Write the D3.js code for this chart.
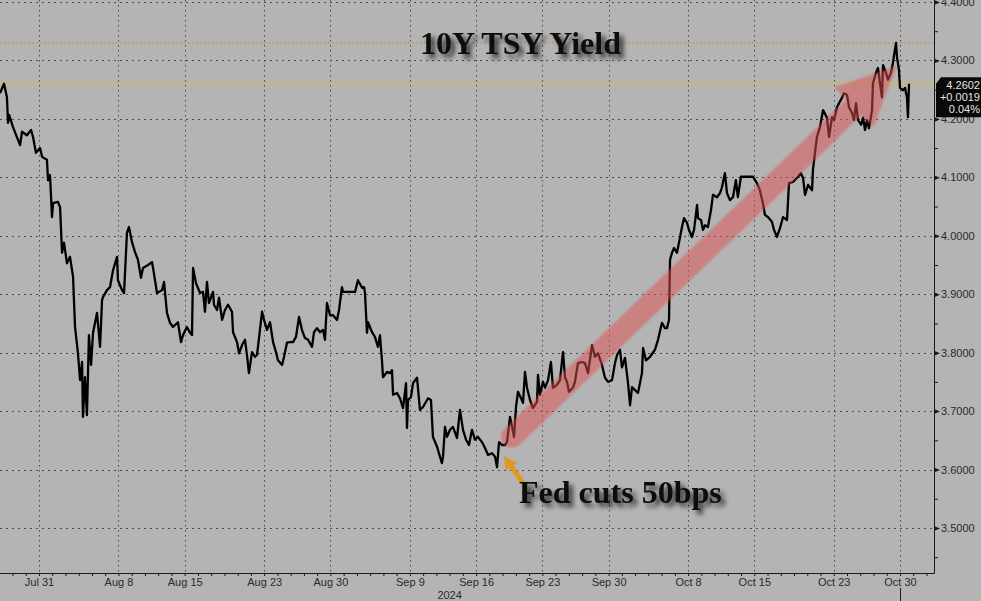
<!DOCTYPE html>
<html><head><meta charset="utf-8">
<script src="https://cdn.jsdelivr.net/npm/d3@7"></script>
<style>html,body{margin:0;padding:0;background:#b4b4b4;overflow:hidden}</style>
</head><body>
<svg id="c" width="981" height="601"></svg>
<script>
// trading-day index (0 = Jul 31, fractional = intraday)
const dayIdx = [
-2.94,-2.64,-2.42,-2.34,-2.26,-1.96,-1.43,-1.28,-0.91,-0.60,
-0.45,-0.23,0.08,0.23,0.60,0.68,0.83,0.98,1.06,1.43,
1.59,1.74,1.89,2.11,2.34,2.57,2.72,2.94,3.10,3.25,
3.32,3.47,3.62,3.77,3.93,4.08,4.38,4.61,4.76,4.83,
5.13,5.36,5.59,5.89,5.96,6.27,6.42,6.64,6.79,7.02,
7.25,7.47,7.70,7.85,8.23,8.53,8.61,8.91,9.29,9.44,
9.66,9.89,10.12,10.49,10.72,10.87,11.17,11.40,11.55,11.63,
11.85,12.16,12.38,12.53,12.68,12.83,13.14,13.21,13.44,13.59,
13.82,14.04,14.27,14.57,14.65,14.95,15.10,15.33,15.55,15.70,
15.85,16.08,16.31,16.46,16.68,16.84,16.99,17.21,17.44,17.67,
17.89,18.04,18.35,18.50,18.72,18.95,19.18,19.40,19.63,19.85,
20.08,20.31,20.61,20.76,20.99,21.21,21.44,21.59,21.74,21.97,
22.20,22.50,22.65,22.87,22.95,23.25,23.86,24.08,24.39,24.54,
24.61,24.76,24.84,25.14,25.36,25.59,25.74,25.89,25.97,26.27,
26.50,26.65,26.73,27.03,27.25,27.48,27.71,27.78,27.86,28.08,
28.24,28.54,28.76,28.99,29.37,29.59,29.74,30.05,30.27,30.42,
30.50,30.65,30.80,31.03,31.25,31.56,31.78,32.01,32.24,32.46,
32.69,32.91,33.14,33.44,33.67,33.90,34.20,34.43,34.58,34.73,
34.95,35.18,35.33,35.56,35.71,35.86,36.01,36.16,36.39,36.54,
36.69,36.84,37.07,37.29,37.60,37.67,37.82,38.05,38.20,38.43,
38.65,38.80,39.10,39.33,39.56,39.71,39.86,40.01,40.31,40.46,
40.69,40.99,41.22,41.45,41.75,41.97,42.20,42.50,42.73,42.96,
43.26,43.48,43.64,43.86,44.01,44.24,44.47,44.62,44.77,45.00,
45.22,45.52,45.60,45.82,46.13,46.50,46.73,47.03,47.26,47.41,
47.56,47.64,47.79,47.94,48.16,48.32,48.54,48.69,48.92,49.07,
49.30,49.45,49.68,49.75,49.98,50.13,50.28,50.50,50.73,50.88,
51.18,51.41,51.56,51.78,51.94,52.16,52.39,52.61,52.76,52.99,
53.89,54.20,54.42,54.65,54.80,55.03,55.33,55.49,55.71,55.94,
56.17,56.47,56.62,56.92,57.30,57.52,57.68,57.83,58.06,58.36,
58.43,58.58,58.73,58.96,59.19,59.49,59.64,59.87,60.02,60.24,
60.40,60.62,60.77,61.00,61.15,61.38,61.53,61.68,61.83,62.06,
62.21,62.36,62.51,62.66,62.89,62.96,63.19,63.34,63.49,63.64,
63.72,63.94,64.09,64.32,64.47,64.55,64.70,64.77,64.92,65.00,
65.23,65.38,65.53,65.60,65.68];
const yields = [
4.244,4.260,4.237,4.193,4.207,4.186,4.155,4.178,4.172,4.181,
4.169,4.142,4.150,4.135,4.130,4.095,4.104,4.032,4.056,4.058,
4.049,3.971,3.988,3.953,3.964,3.930,3.844,3.799,3.753,3.784,
3.690,3.758,3.693,3.830,3.779,3.834,3.868,3.810,3.890,3.895,
3.907,3.912,3.941,3.964,3.924,3.907,3.902,4.005,4.015,3.989,
3.972,3.959,3.928,3.945,3.950,3.955,3.945,3.902,3.907,3.921,
3.868,3.851,3.844,3.852,3.818,3.830,3.844,3.834,3.830,3.945,
3.919,3.902,3.904,3.870,3.921,3.885,3.904,3.882,3.873,3.894,
3.856,3.873,3.882,3.870,3.835,3.818,3.799,3.813,3.822,3.796,
3.765,3.801,3.793,3.796,3.839,3.870,3.856,3.839,3.852,3.818,
3.801,3.787,3.779,3.793,3.817,3.818,3.818,3.827,3.861,3.839,
3.825,3.822,3.810,3.835,3.842,3.835,3.839,3.822,3.885,3.864,
3.864,3.856,3.873,3.912,3.904,3.904,3.904,3.924,3.911,3.912,
3.902,3.834,3.852,3.835,3.827,3.810,3.830,3.787,3.758,3.767,
3.765,3.770,3.728,3.731,3.722,3.705,3.748,3.671,3.719,3.724,
3.748,3.757,3.702,3.707,3.722,3.719,3.656,3.639,3.622,3.611,
3.622,3.673,3.656,3.668,3.673,3.654,3.702,3.668,3.651,3.642,
3.668,3.651,3.656,3.647,3.637,3.625,3.628,3.622,3.604,3.647,
3.642,3.642,3.647,3.690,3.673,3.656,3.707,3.733,3.722,3.714,
3.767,3.740,3.719,3.705,3.716,3.762,3.728,3.750,3.740,3.753,
3.784,3.740,3.745,3.753,3.801,3.758,3.750,3.733,3.740,3.750,
3.782,3.784,3.782,3.765,3.813,3.793,3.799,3.779,3.757,3.750,
3.753,3.782,3.796,3.805,3.775,3.791,3.748,3.710,3.741,3.736,
3.731,3.765,3.808,3.787,3.793,3.805,3.822,3.851,3.842,3.842,
3.856,3.959,3.971,3.979,3.971,3.989,4.015,4.030,4.022,4.010,
3.998,4.010,4.053,4.030,4.027,4.010,4.018,4.015,4.044,4.070,
4.066,4.073,4.083,4.107,4.073,4.061,4.066,4.095,4.066,4.101,
4.101,4.090,4.078,4.056,4.036,4.032,4.024,4.010,3.998,4.013,
4.032,4.027,4.090,4.092,4.101,4.107,4.099,4.070,4.087,4.078,
4.113,4.142,4.169,4.186,4.215,4.202,4.169,4.203,4.198,4.220,
4.227,4.236,4.244,4.241,4.220,4.210,4.198,4.227,4.198,4.190,
4.202,4.181,4.198,4.184,4.215,4.261,4.279,4.287,4.261,4.237,
4.292,4.279,4.267,4.279,4.296,4.309,4.330,4.306,4.284,4.253,
4.249,4.253,4.236,4.203,4.2602];

const xTickDays   = [0, 6, 11, 17, 22, 28, 33, 38, 43, 49, 54, 60, 65];
const xTickLabels = ["Jul 31","Aug 8","Aug 15","Aug 23","Aug 30","Sep 9","Sep 16","Sep 23","Sep 30","Oct 8","Oct 15","Oct 23","Oct 30"];
const yTicks      = [3.5, 3.6, 3.7, 3.8, 3.9, 4.0, 4.1, 4.2, 4.3, 4.4];
const yMinorTicks = [3.45, 3.55, 3.65, 3.75, 3.85, 3.95, 4.05, 4.15, 4.25, 4.35];
const yearLabel = "2024", yearDay = 31;
const lastValue = 4.2602, lastLines = ["4.2602", "+0.0019", "0.04%"];
const periodHigh = 4.33;
const titleText = "10Y TSY Yield";
const noteText = "Fed cuts 50bps";
const redArrow = {from: [35.71, 3.656], to: [64.77, 4.291]};
const orangeArrow = {from: [36.54, 3.577], to: [35.10, 3.623]};

const plotR = 934, plotB = 573;
const svg = d3.select("#c");
const x = d3.scaleLinear().domain([0, 65]).range([39, 900]);
const y = d3.scaleLinear().domain([3.423, 4.4034]).range([plotB, 0]);

const defs = svg.append("defs");
const sh = defs.append("filter").attr("id","shadow").attr("x","-10%").attr("y","-30%").attr("width","130%").attr("height","180%");
sh.append("feGaussianBlur").attr("in","SourceAlpha").attr("stdDeviation",2.5).attr("result","b");
sh.append("feOffset").attr("in","b").attr("dx",4).attr("dy",4).attr("result","o");
sh.append("feComponentTransfer").attr("in","o").attr("result","o2").append("feFuncA").attr("type","linear").attr("slope",0.75);
const mg = sh.append("feMerge"); mg.append("feMergeNode").attr("in","o2"); mg.append("feMergeNode").attr("in","SourceGraphic");
const bl = defs.append("filter").attr("id","soft");
bl.append("feGaussianBlur").attr("stdDeviation",1.2);
defs.append("clipPath").attr("id","plot").append("rect").attr("x",0).attr("y",0).attr("width",plotR).attr("height",plotB);

svg.append("rect").attr("width",981).attr("height",601).attr("fill","#b4b4b4");

// grid
const grid = svg.append("g").attr("stroke","#4a4a4a").attr("stroke-width",1);
grid.selectAll(".hg").data(yTicks).join("line")
  .attr("x1",0).attr("x2",plotR).attr("y1",d=>Math.round(y(d))+0.5).attr("y2",d=>Math.round(y(d))+0.5)
  .attr("stroke-dasharray","2,4");
grid.selectAll(".vg").data(xTickDays).join("line")
  .attr("x1",d=>Math.round(x(d))+0.5).attr("x2",d=>Math.round(x(d))+0.5).attr("y1",0).attr("y2",plotB)
  .attr("stroke-dasharray","1.5,3.5");

// reference lines
svg.append("line").attr("x1",0).attr("x2",plotR).attr("y1",y(periodHigh)).attr("y2",y(periodHigh))
  .attr("stroke","#cf8f4e").attr("stroke-width",1.4).attr("stroke-dasharray","2,2");
svg.append("line").attr("x1",0).attr("x2",plotR).attr("y1",y(lastValue)).attr("y2",y(lastValue))
  .attr("stroke","#d6c22c").attr("stroke-width",1.8).attr("stroke-dasharray","2,1.5");

// line
const pts = dayIdx.map((t,i)=>[t, yields[i]]);
svg.append("path").datum(pts).attr("clip-path","url(#plot)")
  .attr("d", d3.line().x(d=>x(d[0])).y(d=>y(d[1])))
  .attr("fill","none").attr("stroke","#000").attr("stroke-width",2.3).attr("stroke-linejoin","round");

// red arrow
(function(){
  const S=[x(redArrow.from[0]), y(redArrow.from[1])], T=[x(redArrow.to[0]), y(redArrow.to[1])];
  const dx=T[0]-S[0], dy=T[1]-S[1], L=Math.hypot(dx,dy), u=[dx/L,dy/L], n=[-u[1],u[0]];
  const hl=60, hw=28, B=[T[0]-u[0]*hl, T[1]-u[1]*hl];
  const g=svg.append("g").attr("opacity",0.5).attr("filter","url(#soft)");
  g.append("line").attr("x1",S[0]).attr("y1",S[1]).attr("x2",B[0]+u[0]*2).attr("y2",B[1]+u[1]*2)
    .attr("stroke","#e05050").attr("stroke-width",22).attr("stroke-linecap","round");
  g.append("path").attr("d",`M${B[0]+n[0]*hw},${B[1]+n[1]*hw}L${T[0]},${T[1]}L${B[0]-n[0]*hw},${B[1]-n[1]*hw}Z`)
    .attr("fill","#e05050");
})();

// orange arrow
(function(){
  const S=[x(orangeArrow.from[0]), y(orangeArrow.from[1])], T=[x(orangeArrow.to[0]), y(orangeArrow.to[1])];
  const dx=T[0]-S[0], dy=T[1]-S[1], L=Math.hypot(dx,dy), u=[dx/L,dy/L], n=[-u[1],u[0]];
  const hl=13, hw=7, B=[T[0]-u[0]*hl, T[1]-u[1]*hl];
  const g=svg.append("g");
  g.append("line").attr("x1",S[0]).attr("y1",S[1]).attr("x2",B[0]).attr("y2",B[1])
    .attr("stroke","#dc9a1e").attr("stroke-width",5);
  g.append("path").attr("d",`M${B[0]+n[0]*hw},${B[1]+n[1]*hw}L${T[0]},${T[1]}L${B[0]-n[0]*hw},${B[1]-n[1]*hw}Z`)
    .attr("fill","#dc9a1e");
})();

// axes frame
svg.append("line").attr("x1",plotR+0.5).attr("x2",plotR+0.5).attr("y1",0).attr("y2",plotB+0.5).attr("stroke","#1a1a1a");
svg.append("line").attr("x1",0).attr("x2",plotR+0.5).attr("y1",plotB+0.5).attr("y2",plotB+0.5).attr("stroke","#1a1a1a");

// right axis
const ra = svg.append("g").attr("transform",`translate(${plotR},0)`)
  .call(d3.axisRight(y).tickValues(yTicks).tickFormat(d3.format(".4f")).tickSize(0).tickPadding(7));
ra.select(".domain").remove();
ra.selectAll("text").attr("font-family","Liberation Sans, Arial, sans-serif").attr("font-size",11).attr("fill","#2a2a2a");
ra.selectAll(".tick").append("path").attr("d","M0,-2.5L6,0L0,2.5Z").attr("fill","#1a1a1a");
svg.append("g").attr("transform",`translate(${plotR},0)`)
  .call(d3.axisRight(y).tickValues(yMinorTicks).tickFormat("").tickSize(4))
  .call(g=>g.select(".domain").remove())
  .selectAll("line").attr("stroke","#1a1a1a");

// bottom axis: daily ticks + labels
svg.append("g").attr("transform",`translate(0,${plotB})`)
  .call(d3.axisBottom(x).tickValues(d3.range(-2,68)).tickFormat("").tickSize(3))
  .call(g=>g.select(".domain").remove())
  .selectAll("line").attr("stroke","#1a1a1a");
const ba = svg.append("g").attr("transform",`translate(0,${plotB})`)
  .call(d3.axisBottom(x).tickValues(xTickDays).tickFormat((d,i)=>xTickLabels[i]).tickSize(0).tickPadding(5));
ba.select(".domain").remove();
ba.selectAll("text").attr("font-family","Liberation Sans, Arial, sans-serif").attr("font-size",11).attr("fill","#2a2a2a");
svg.append("text").attr("x",x(yearDay)).attr("y",599).attr("text-anchor","middle")
  .attr("font-family","Liberation Sans, Arial, sans-serif").attr("font-size",11).attr("fill","#2a2a2a").text(yearLabel);
svg.append("line").attr("x1",Math.round(x(65))+0.5).attr("x2",Math.round(x(65))+0.5).attr("y1",588).attr("y2",601).attr("stroke","#1a1a1a");

// last value tag
const ly = y(lastValue);
svg.append("path").attr("d",`M936,${ly}L941,${ly-6.5}L981,${ly-6.5}L981,${ly+33.5}L936,${ly+33.5}Z`).attr("fill","#080808");
svg.selectAll(".lv").data(lastLines).join("text")
  .attr("x",980).attr("y",(d,i)=>ly+5+i*12.3).attr("text-anchor","end")
  .attr("font-family","Liberation Sans, Arial, sans-serif").attr("font-size",11).attr("fill","#e6e6e6").text(d=>d);

// title & annotation text
svg.append("text").attr("x",420).attr("y",54).attr("font-family","Liberation Serif, Times New Roman, serif")
  .attr("font-weight","bold").attr("font-size",32).attr("fill","#0a0a0a").attr("filter","url(#shadow)").text(titleText);
svg.append("text").attr("x",519).attr("y",503).attr("font-family","Liberation Serif, Times New Roman, serif")
  .attr("font-weight","bold").attr("font-size",32).attr("fill","#0a0a0a").attr("filter","url(#shadow)").text(noteText);
</script>
</body></html>
